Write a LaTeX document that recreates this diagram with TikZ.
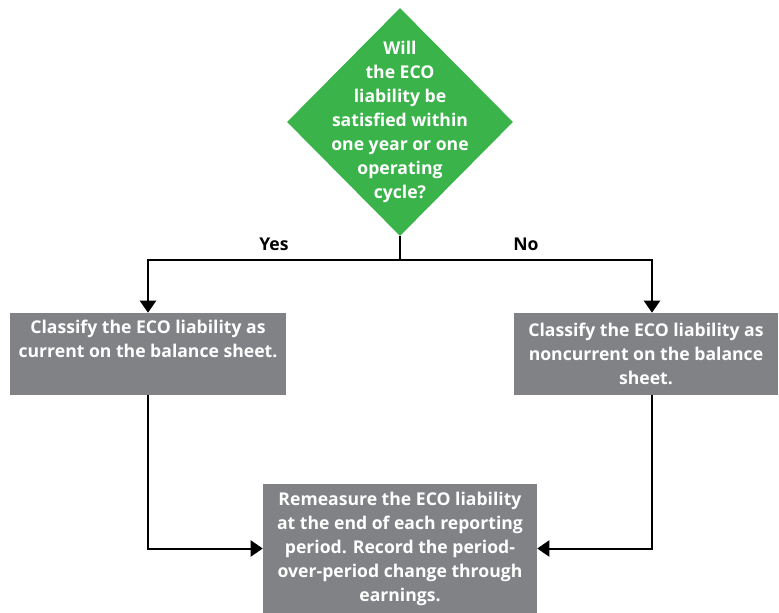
\documentclass[tikz,border=0pt]{standalone}
\usepackage{fontspec}
\setmainfont{Open Sans}
\usetikzlibrary{shapes.geometric,arrows.meta}
\definecolor{ecogreen}{RGB}{58,179,74}
\definecolor{ecogrey}{RGB}{128,130,133}
\begin{document}
\begin{tikzpicture}[x=0.75pt, y=-0.75pt,
    font=\fontsize{13.2}{18}\selectfont\bfseries,
    decision/.style={diamond, fill=ecogreen, minimum width=169.5pt, minimum height=171pt, inner sep=0pt},
    outcome/.style={fill=ecogrey, text=white, align=center, inner sep=0pt},
    arr/.style={line width=1.5pt, -{Triangle[width=12pt,length=9pt]}},
    link/.style={line width=1.5pt}]
  \useasboundingbox (0,0) rectangle (779,613);
  % Question
  \node[decision] (q) at (400,122) {};
  \node[text=white, align=center] (qtext) at (q.center)
    {Will\\the ECO\\liability be\\satisfied within\\one year or one\\operating\\cycle?};
  % Outcomes
  \node[outcome, minimum width=207pt, minimum height=61.5pt] (cur) at (148,354)
    {Classify the ECO liability as\\current on the balance sheet.\\\strut};
  \node[outcome, minimum width=198pt, minimum height=61.5pt] (noncur) at (646,354)
    {Classify the ECO liability as\\noncurrent on the balance\\sheet.};
  \node[outcome, minimum width=205.5pt, minimum height=96.75pt] (remeasure) at (400,548.5)
    {Remeasure the ECO liability\\at the end of each reporting\\period. Record the period-\\over-period change through\\earnings.};
  % Branches
  \coordinate (fork) at (400,260);
  \coordinate (yesbend) at (148,260);
  \coordinate (nobend) at (652,260);
  \draw[link] (q.south) -- (fork);
  \draw[arr] (fork) -- (yesbend) node[midway, above=3pt] {Yes} -- (cur.north);
  \draw[arr] (fork) -- (nobend) node[midway, above=3pt] {No} -- (nobend |- noncur.north);
  % Into remeasure
  \draw[arr] (cur.south) |- (remeasure.west);
  \draw[arr] (nobend |- noncur.south) |- (remeasure.east);
\end{tikzpicture}
\end{document}
